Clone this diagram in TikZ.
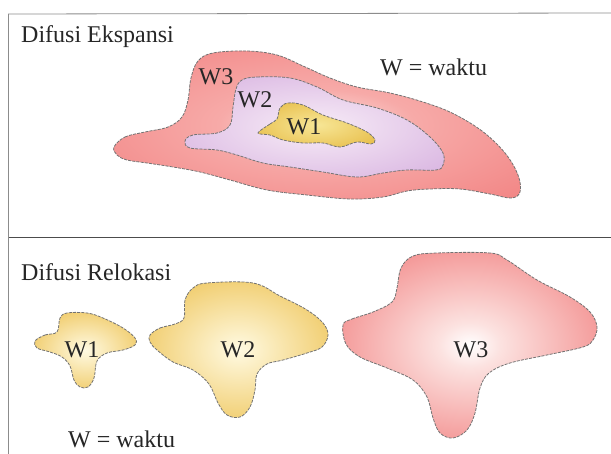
\documentclass[tikz,border=0pt]{standalone}
\usepackage{fontspec}
\setmainfont{Liberation Serif}
\newfontfamily\timesface{Liberation Serif}
\usepackage{xcolor}
\usepackage{tikz}

\definecolor{roseedge}{RGB}{240,118,118}
\definecolor{rosemid}{RGB}{247,170,168}
\definecolor{rosecore}{RGB}{252,226,224}
\definecolor{lilacedge}{RGB}{210,168,220}
\definecolor{lilaccore}{RGB}{247,236,247}
\definecolor{goldedge}{RGB}{228,180,56}
\definecolor{goldcore}{RGB}{247,230,150}
\definecolor{sandedge}{RGB}{236,190,72}
\definecolor{sandcore}{RGB}{255,250,226}

\pgfdeclareradialshading{roseglow}{\pgfpoint{0bp}{0bp}}{color(0bp)=(rosecore); color(12bp)=(rosemid); color(45bp)=(roseedge)}
\pgfdeclareradialshading{lilacglow}{\pgfpoint{0bp}{0bp}}{color(0bp)=(lilaccore); color(42bp)=(lilacedge)}
\pgfdeclareradialshading{goldglow}{\pgfpoint{0bp}{0bp}}{color(0bp)=(goldcore); color(40bp)=(goldedge)}
\pgfdeclareradialshading{sandglow}{\pgfpoint{0bp}{0bp}}{color(0bp)=(sandcore); color(36bp)=(sandedge)}
\pgfdeclareradialshading{pinkglow}{\pgfpoint{0bp}{0bp}}{color(0bp)=(white); color(6bp)=(rosecore); color(36bp)=(roseedge)}

\begin{document}
\begin{tikzpicture}[
  x=1pt,
  y=-1pt,
  font=\timesface\fontsize{24}{28}\selectfont,
  frame/.style={draw=black!45, line width=0.8pt},
  divider/.style={draw=black!70, line width=1.3pt},
  blob/.style={draw=black!55, line width=0.8pt, dash pattern=on 3pt off 1.2pt},
  title/.style={anchor=base west, inner sep=0pt, text=black!85},
  lbl/.style={anchor=base, inner sep=0pt, text=black!85}
]
\useasboundingbox (0,0) rectangle (611,454);
\fill[white] (0,0) rectangle (611,454);

% frame
\coordinate (tl) at (8.5,14);
\coordinate (tr) at (611,13);
\coordinate (bl) at (8.5,454);
\coordinate (ml) at (8.5,237.5);
\coordinate (mr) at (611,237.5);
\draw[frame] (tr) -- (tl) -- (bl);
\draw[divider] (ml) -- (mr);

% Difusi Ekspansi
\path[blob, shading=roseglow] plot[smooth cycle, tension=0.6] coordinates {
  (114,147) (125,137) (145,132) (168,127) (182,117) (188,100) (191,78)
  (198,61) (213,53) (247,51) (277,55) (303,66) (330,78) (357,87) (390,93)
  (423,102) (452,113) (482,131) (505,153) (518,175) (520,192) (511,198)
  (490,194) (460,189) (430,189) (407,191) (383,197) (350,199) (307,195)
  (267,190) (230,180) (200,172) (173,167) (147,163) (127,160) (117,155)};
\path[blob, shading=lilacglow] plot[smooth cycle, tension=0.6] coordinates {
  (242,80) (257,77) (290,78) (317,87) (343,100) (377,108) (407,120)
  (430,137) (443,153) (443,165) (436,170) (407,170) (383,173) (357,177)
  (323,172) (290,167) (263,163) (237,155) (217,150) (190,148) (185,141)
  (193,135) (217,133) (230,125) (233,107) (236,89)};
\path[blob, shading=goldglow] plot[smooth cycle, tension=0.6] coordinates {
  (258,133) (270,124) (277,119) (280,108) (288,103) (303,105) (323,115)
  (347,123) (367,132) (375,140) (371,144) (357,142) (340,147) (323,143)
  (303,143) (283,140) (270,135)};

\node[title] (ekspansi) at (21,43) {Difusi Ekspansi};
\node[title] (keyA) at (380,76) {W = waktu};
\node[lbl] (eW3) at (216,85) {W3};
\node[lbl] (eW2) at (255,108) {W2};
\node[lbl] (eW1) at (304,135) {W1};

% Difusi Relokasi
\path[blob, shading=sandglow] plot[smooth cycle, tension=0.6] coordinates {
  (35,341) (45,335) (57,332) (60,318) (67,313) (87,313) (103,318)
  (123,328) (135,338) (135,345) (123,350) (107,353) (97,361) (94,378)
  (88,387) (80,387) (74,380) (70,366) (62,357) (50,352) (37,348)};
\path[blob, shading=sandglow] plot[smooth cycle, tension=0.6] coordinates {
  (150,335) (160,328) (175,324) (184,318) (185,300) (193,288) (207,283)
  (253,283) (280,296) (307,310) (323,323) (328,335) (322,347) (307,353)
  (283,360) (267,364) (257,374) (255,390) (250,407) (240,417) (227,415)
  (218,403) (209,384) (193,370) (173,362) (157,350) (150,342)};
\path[blob, shading=pinkglow] plot[smooth cycle, tension=0.6] coordinates {
  (343,325) (352,319) (373,312) (392,302) (397,288) (401,268) (413,256)
  (437,253) (490,253) (507,260) (537,280) (570,297) (590,312) (597,327)
  (593,340) (583,347) (547,355) (510,363) (489,373) (480,388) (475,413)
  (467,430) (453,438) (440,433) (433,418) (427,397) (413,380) (387,368)
  (360,357) (346,344)};

\node[title] (relokasi) at (21,281) {Difusi Relokasi};
\node[title] (keyB) at (68,447) {W = waktu};
\node[lbl] (rW1) at (82,358) {W1};
\node[lbl] (rW2) at (238,358) {W2};
\node[lbl] (rW3) at (471,358) {W3};
\end{tikzpicture}
\end{document}
